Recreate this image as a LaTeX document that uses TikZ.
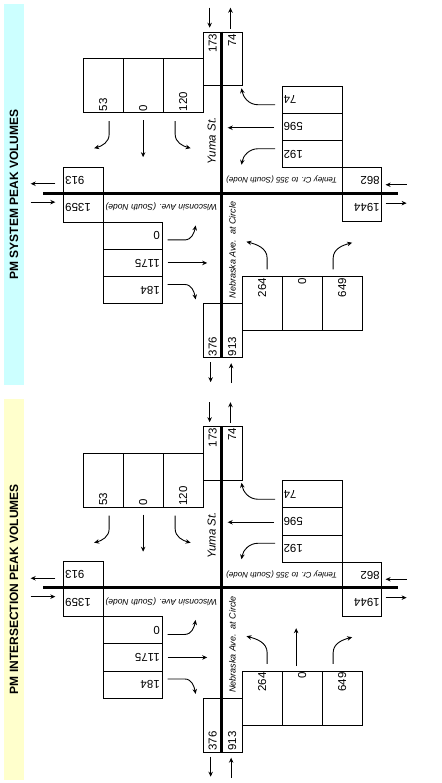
\documentclass[tikz,border=0pt]{standalone}
\usepackage{fontspec}
\setmainfont{Liberation Sans}
\usetikzlibrary{arrows.meta,calc}
\definecolor{sysblue}{RGB}{204,255,255}
\definecolor{intyellow}{RGB}{255,255,204}

\begin{document}
\begin{tikzpicture}[x=1pt, y=1pt, >={Stealth[length=5pt,width=4.5pt]}, line width=0.9pt]
\tikzset{
  cell/.style={draw, anchor=north west, inner sep=0pt},
  legbox/.style={cell, minimum width=40pt, minimum height=54pt},
  rowbox/.style={cell, minimum width=60pt, minimum height=27.2pt},
  num/.style={font=\fontsize{11.5}{13}\selectfont, inner sep=1.5pt},
  street/.style={font=\fontsize{8.5}{10}\selectfont\itshape, inner sep=0pt},
  road/.style={line width=3pt},
  bartitle/.style={font=\fontsize{12}{14}\selectfont\bfseries, rotate=90, inner sep=0pt}
}
\useasboundingbox (0,0) rectangle (441,-783);

\foreach \pfx/\dy/\ttl/\barcol in {sys/0/PM SYSTEM PEAK VOLUMES/sysblue, int/-394.5/PM INTERSECTION PEAK VOLUMES/intyellow}{
\begin{scope}[yshift=\dy pt, name prefix=\pfx-]
\node[fill=\barcol, minimum width=20pt, minimum height=381pt, inner sep=0pt] (bar) at (14,-194.5) {};
\node[bartitle] (title) at (bar.center) {\ttl};

% north leg
\node[cell, minimum width=19pt, minimum height=53.3pt] (nin) at (202.7,-31.7) {};
\node[cell, minimum width=20pt, minimum height=53.3pt] (nout) at (221.7,-31.7) {};
\node[legbox] (sb1) at (82.7,-58.3) {};
\node[legbox] (sb2) at (122.7,-58.3) {};
\node[legbox] (sb3) at (162.7,-58.3) {};
% west leg
\node[cell, minimum width=40pt, minimum height=26.6pt] (wout) at (63.3,-166.7) {};
\node[cell, minimum width=40pt, minimum height=28.4pt] (win) at (63.3,-193.3) {};
\node[rowbox, minimum width=59pt] (eb1) at (103.3,-221.7) {};
\node[rowbox, minimum width=59pt] (eb2) at (103.3,-248.9) {};
\node[rowbox, minimum width=59pt] (eb3) at (103.3,-276.1) {};
% south leg
\node[cell, minimum width=19pt, minimum height=54pt] (sout) at (202.7,-303.3) {};
\node[cell, minimum width=20pt, minimum height=54pt] (sin) at (221.7,-303.3) {};
\node[legbox] (nb1) at (241.7,-276) {};
\node[legbox] (nb2) at (281.7,-276) {};
\node[legbox] (nb3) at (321.7,-276) {};
% east leg
\node[rowbox] (wb1) at (281.7,-85.7) {};
\node[rowbox] (wb2) at (281.7,-112.9) {};
\node[rowbox] (wb3) at (281.7,-140.1) {};
\node[cell, minimum width=39pt, minimum height=26pt] (ein) at (341.7,-167.3) {};
\node[cell, minimum width=39pt, minimum height=28pt] (eout) at (341.7,-193.3) {};

% roads
\draw[road] (43,-193.3) -- (398,-193.3);
\draw[road] (221.7,-31.7) -- (221.7,-358);

% volumes
\node[num, rotate=90, anchor=east] (nin-t) at (nin.north) {173};
\node[num, rotate=90, anchor=east] (nout-t) at (nout.north) {74};
\node[num, rotate=90, anchor=west] (sb1-t) at (sb1.south) {53};
\node[num, rotate=90, anchor=west] (sb2-t) at (sb2.south) {0};
\node[num, rotate=90, anchor=west] (sb3-t) at (sb3.south) {120};
\node[num, rotate=180, anchor=east] (wout-t) at (wout.west) {913};
\node[num, rotate=180, anchor=east] (win-t) at (win.west) {1359};
\node[num, rotate=180, anchor=west] (eb1-t) at ($(eb1.east)+(-1.5,0)$) {0};
\node[num, rotate=180, anchor=west] (eb2-t) at ($(eb2.east)+(-1.5,0)$) {1175};
\node[num, rotate=180, anchor=west] (eb3-t) at ($(eb3.east)+(-1.5,0)$) {184};
\node[num, rotate=90, anchor=west] (sout-t) at (sout.south) {376};
\node[num, rotate=90, anchor=west] (sin-t) at (sin.south) {913};
\node[num, rotate=90, anchor=east] (nb1-t) at (nb1.north) {264};
\node[num, rotate=90, anchor=east] (nb2-t) at (nb2.north) {0};
\node[num, rotate=90, anchor=east] (nb3-t) at (nb3.north) {649};
\node[num, rotate=180, anchor=east] (wb1-t) at (wb1.west) {74};
\node[num, rotate=180, anchor=east] (wb2-t) at (wb2.west) {596};
\node[num, rotate=180, anchor=east] (wb3-t) at (wb3.west) {192};
\node[num, rotate=180, anchor=west] (ein-t) at (ein.east) {862};
\node[num, rotate=180, anchor=west] (eout-t) at (eout.east) {1944};

% street names
\node[street, font=\fontsize{11.5}{13}\selectfont\itshape, rotate=90] (yuma) at (211.7,-141) {Yuma St.};
\node[street, font=\fontsize{9}{11}\selectfont\itshape, rotate=90] (nebr) at (232.3,-250) {Nebraska Ave.\ \ at Circle};
\node[street, rotate=180] (wisc) at (161.3,-206.7) {Wisconsin Ave. (South Node)};
\node[street, font=\fontsize{8}{10}\selectfont\itshape, rotate=180] (tenl) at (281.7,-180) {Tenley Cr. to 355 (South Node)};

% leg in/out arrows
\draw[->] ($(nin.north)+(-3,24)$) -- ($(nin.north)+(-3,4)$);
\draw[->] ($(nout.north)+(-1.7,3)$) -- ($(nout.north)+(-1.7,24)$);
\draw[->] ($(sout.south)+(-2,-4)$) -- ($(sout.south)+(-2,-24)$);
\draw[->] ($(sin.south)+(-1,-25)$) -- ($(sin.south)+(-1,-5)$);
\draw[->] ($(wout.west)+(-8,-3.3)$) -- ($(wout.west)+(-32.6,-3.3)$);
\draw[->] ($(win.west)+(-32.6,5.8)$) -- ($(win.west)+(-8,5.8)$);
\draw[->] ($(ein.east)+(25,-4)$) -- ($(ein.east)+(4,-4)$);
\draw[->] ($(eout.east)+(4,4.6)$) -- ($(eout.east)+(25,4.6)$);

% turning movements
\draw[->] ($(sb1.south)+(6,-8)$) -- ++(0,-13) to[out=-90,in=15] ++(-15,-14);
\draw[->] ($(sb2.south)+(0,-7)$) -- ($(sb2.south)+(0,-44)$);
\draw[->] ($(sb3.south)+(-8,-8)$) -- ++(0,-13) to[out=-90,in=165] ++(15.5,-14);
\draw[->] ($(eb1.east)+(4.4,-4.2)$) -- ++(17,0) to[out=0,in=-100] ++(11,14.5);
\draw[->] ($(eb2.east)+(4.4,0)$) -- ($(eb2.east)+(44,0)$);
\draw[->] ($(eb3.east)+(4.4,5.7)$) -- ++(17,0) to[out=0,in=100] ++(11,-15);
\draw[->] ($(wb1.west)+(-6.7,-5)$) -- ++(-17,0) to[out=180,in=-80] ++(-16.5,16.5);
\draw[->] ($(wb2.west)+(-7.5,-0.8)$) -- ($(wb2.west)+(-54,-0.8)$);
\draw[->] ($(wb3.west)+(-6.7,5.4)$) -- ++(-17,0) to[out=180,in=80] ++(-16.5,-16);
\draw[->] ($(nb1.north)+(5,6.7)$) -- ++(0,11) to[out=90,in=-15] ++(-20.7,16.6);
\draw[->] ($(nb3.north)+(-9,6.7)$) -- ++(0,11) to[out=90,in=195] ++(19,15.6);
\end{scope}
}
% through movement shown on the intersection panel only
\draw[->] ($(int-nb2.north)+(-6,4.5)$) -- ($(int-nb2.north)+(-6,42.3)$);
\end{tikzpicture}
\end{document}
